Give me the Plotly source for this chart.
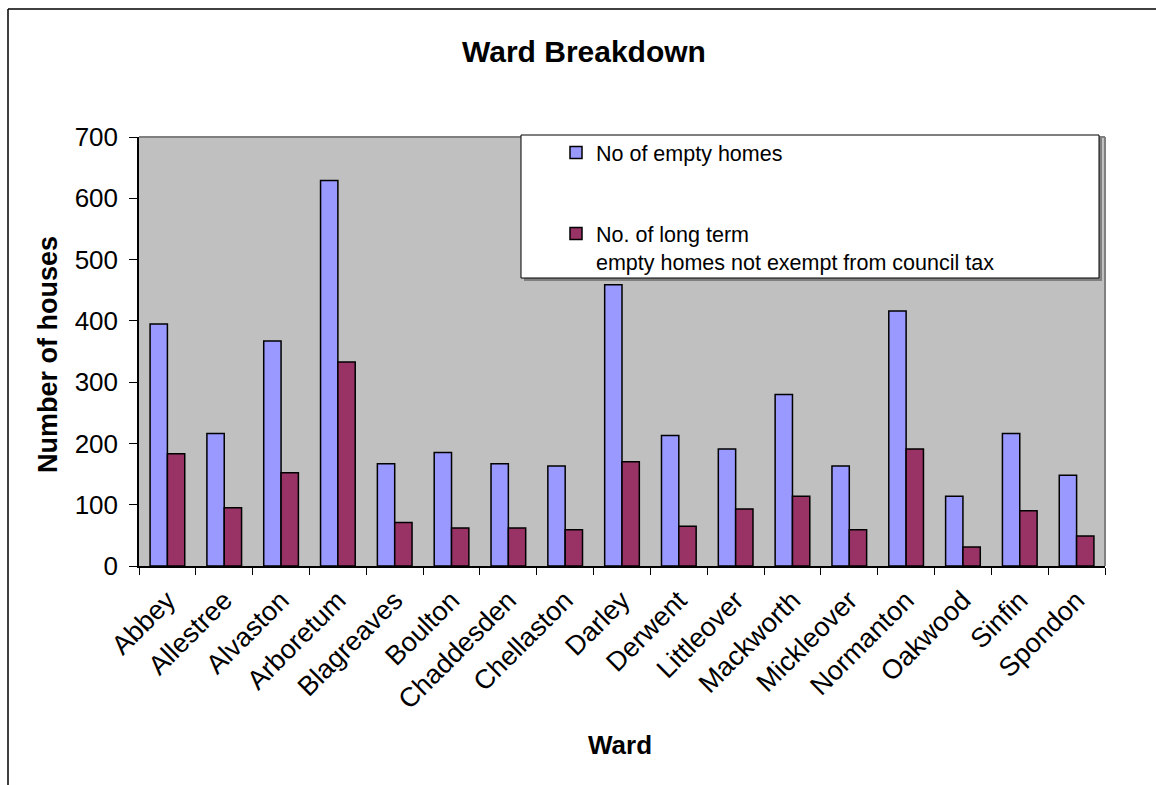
import plotly.graph_objects as go

wards = ["Abbey", "Allestree", "Alvaston", "Arboretum", "Blagreaves", "Boulton",
         "Chaddesden", "Chellaston", "Darley", "Derwent", "Littleover", "Mackworth",
         "Mickleover", "Normanton", "Oakwood", "Sinfin", "Spondon"]
empty_homes = [395, 216, 367, 629, 167, 185, 167, 163, 459, 213, 191, 280, 163, 416, 114, 216, 148]
long_term = [183, 95, 152, 333, 71, 62, 62, 59, 170, 65, 93, 114, 59, 191, 31, 90, 49]

series1_name = "No of empty homes"
series2_name = "No. of long term<br>empty homes not exempt from council tax"

FONT = "Liberation Sans, Arial, sans-serif"

fig = go.Figure()
fig.add_trace(go.Bar(x=wards, y=empty_homes, name=series1_name, legendgroup="a",
                     marker=dict(color="#9999FF", line=dict(color="black", width=1.5))))
fig.add_trace(go.Bar(x=wards, y=long_term, name=series2_name, legendgroup="b",
                     marker=dict(color="#993366", line=dict(color="black", width=1.5))))

L, R, T, B = 139, 1105, 137, 566
W, H = 1156, 785
pw, ph = R - L, B - T

def px(x):
    return (x - L) / pw

def py(y):
    return (B - y) / ph

shapes = [
    # outer chart border (top and left)
    dict(type="line", xref="paper", yref="paper", x0=px(8), x1=px(1160), y0=py(9), y1=py(9),
         line=dict(color="black", width=1.5), layer="above"),
    dict(type="line", xref="paper", yref="paper", x0=px(8), x1=px(8), y0=py(9), y1=py(790),
         line=dict(color="black", width=1.5), layer="above"),
    # plot area top/right border
    dict(type="line", xref="paper", yref="paper", x0=0, x1=1, y0=1, y1=1,
         line=dict(color="#808080", width=2), layer="above"),
    dict(type="line", xref="paper", yref="paper", x0=1, x1=1, y0=0, y1=1,
         line=dict(color="#808080", width=2), layer="above"),
    # legend box shadow and box
    dict(type="rect", xref="paper", yref="paper", x0=px(524), x1=px(1102), y0=py(281), y1=py(138),
         fillcolor="#808080", line=dict(width=0), layer="above"),
    dict(type="rect", xref="paper", yref="paper", x0=px(521), x1=px(1099), y0=py(278), y1=py(135),
         fillcolor="white", line=dict(color="black", width=1), layer="above"),
]

annotations = [
    dict(text="<b>Ward Breakdown</b>", xref="paper", yref="paper", x=px(584), y=py(52),
         xanchor="center", yanchor="middle", showarrow=False, font=dict(size=30, color="black", family=FONT)),
    dict(text="<b>Number of houses</b>", xref="paper", yref="paper", x=px(48), y=py(355),
         xanchor="center", yanchor="middle", textangle=-90, showarrow=False,
         font=dict(size=27, color="black", family=FONT)),
    dict(text="<b>Ward</b>", xref="paper", yref="paper", x=px(620), y=py(745),
         xanchor="center", yanchor="middle", showarrow=False, font=dict(size=26, color="black", family=FONT)),
]

fig.update_layout(
    width=W, height=H,
    margin=dict(l=L, r=W - R, t=T, b=H - B),
    paper_bgcolor="white",
    plot_bgcolor="#C0C0C0",
    font=dict(family=FONT, color="black"),
    barmode="group",
    bargap=0.39,
    bargroupgap=0,
    shapes=shapes,
    annotations=annotations,
    showlegend=True,
    legend=dict(x=px(556), y=py(132), xanchor="left", yanchor="top",
                bgcolor="rgba(0,0,0,0)", borderwidth=0,
                font=dict(size=21.5, color="black", family=FONT),
                traceorder="grouped", tracegroupgap=50, valign="top"),
    xaxis=dict(showgrid=False, showline=True, linecolor="black", linewidth=1.5,
               ticks="outside", tickson="boundaries", ticklen=7, tickcolor="black",
               ticklabelstandoff=6,
               tickangle=-45, tickfont=dict(size=27, color="black", family=FONT), mirror=False),
    yaxis=dict(range=[0, 700], dtick=100, showgrid=False, zeroline=False, showline=True,
               linecolor="black", linewidth=1.5, ticks="outside", ticklen=8, tickcolor="black",
               ticklabelstandoff=6,
               tickfont=dict(size=26, color="black", family=FONT)),
)

fig.write_html("out.html")
